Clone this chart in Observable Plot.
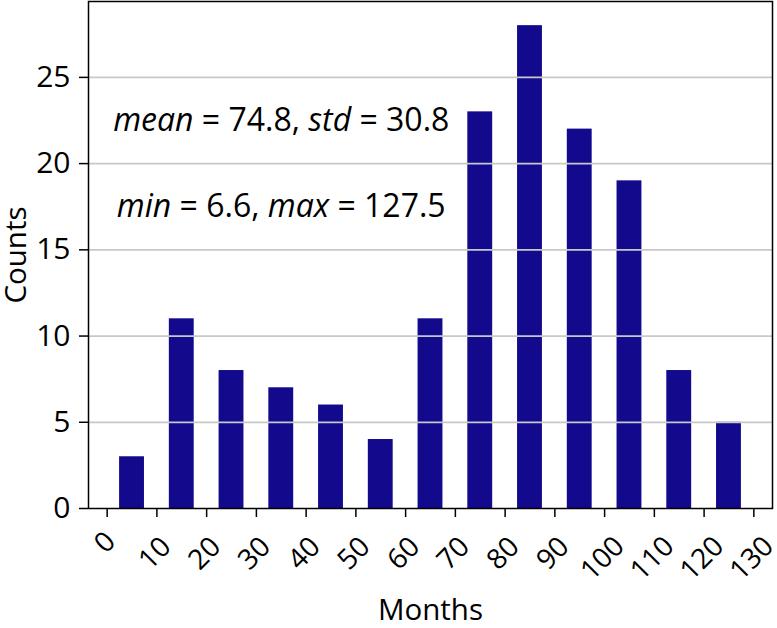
<!DOCTYPE html>
<html>
<head>
<meta charset="utf-8">
<script src="https://cdn.jsdelivr.net/npm/d3@7"></script>
<script src="https://cdn.jsdelivr.net/npm/@observablehq/plot@0.6"></script>
<style>
  html, body { margin: 0; padding: 0; background: #fff; }
</style>
</head>
<body>
<div id="chart"></div>
<script>
// Data
const binCenters = [5, 15, 25, 35, 45, 55, 65, 75, 85, 95, 105, 115, 125];
const counts = [3, 11, 8, 7, 6, 4, 11, 23, 28, 22, 19, 8, 5];
const barWidth = 5;
const xTicks = [0, 10, 20, 30, 40, 50, 60, 70, 80, 90, 100, 110, 120, 130];
const yTicks = [0, 5, 10, 15, 20, 25];
const annoLines = ["mean = 74.8, std = 30.8", "min = 6.6, max = 127.5"];
const annoX = [35, 35];
const annoY = [22.5, 17.5];
const xLabel = "Months";
const yLabel = "Counts";

const bars = binCenters.map((c, i) => ({x1: c - barWidth / 2, x2: c + barWidth / 2, y: counts[i]}));
const annos = annoLines.map((t, i) => ({text: t, x: annoX[i], y: annoY[i]}));

// rotated tick labels, centred on their tick like matplotlib (offset depends on label length)
const labelOffset = {1: 34, 2: 45, 3: 50};
const tickLabelMarks = [1, 2, 3].map(n =>
  Plot.text(xTicks.filter(t => String(t).length === n), {
    x: d => d, text: d => String(d), frameAnchor: "bottom", dx: -2, dy: labelOffset[n],
    rotate: -45, textAnchor: "middle", lineAnchor: "middle", fontSize: 28
  })
);

const chart = Plot.plot({
  width: 777,
  height: 628,
  marginLeft: 88,
  marginRight: 5,
  marginTop: 1,
  marginBottom: 120,
  style: {fontFamily: "'Open Sans', 'Noto Sans', sans-serif", fontSize: "29px", color: "black", background: "white"},
  x: {domain: [-3.75, 133.75]},
  y: {domain: [0, 29.4]},
  marks: [
    Plot.rectY(bars, {x1: "x1", x2: "x2", y: "y", fill: "#12098c"}),
    Plot.ruleY(yTicks.slice(1), {stroke: "#c8c8c8", strokeWidth: 1.8}),
    Plot.axisX({ticks: xTicks, tickSize: 9, strokeWidth: 1.5, tickFormat: () => "", label: null}),
    ...tickLabelMarks,
    Plot.axisY({ticks: yTicks, tickSize: 9, strokeWidth: 1.5, tickPadding: 9, fontSize: 30, label: null}),
    Plot.frame({stroke: "black", strokeWidth: 1.5}),
    Plot.text(annos, {x: "x", y: "y", text: "text", fontSize: 32, textAnchor: "middle", lineAnchor: "middle", className: "anno"}),
    Plot.text([xLabel], {frameAnchor: "bottom", dy: 102, textAnchor: "middle", lineAnchor: "middle", fontSize: 29.5}),
    Plot.text([yLabel], {frameAnchor: "left", dx: -72, rotate: -90, textAnchor: "middle", lineAnchor: "middle", fontSize: 29.5})
  ]
});

// mathtext-like styling: italic letters, upright numbers
d3.select(chart).selectAll("g.anno text").each(function() {
  const el = d3.select(this);
  const s = el.text();
  el.text(null);
  const parts = s.match(/[A-Za-z]+|[^A-Za-z]+/g);
  parts.forEach(p => {
    const ts = el.append("tspan").text(p);
    if (/^[A-Za-z]+$/.test(p)) ts.attr("font-style", "italic");
  });
});

document.getElementById("chart").appendChild(chart);
</script>
</body>
</html>
